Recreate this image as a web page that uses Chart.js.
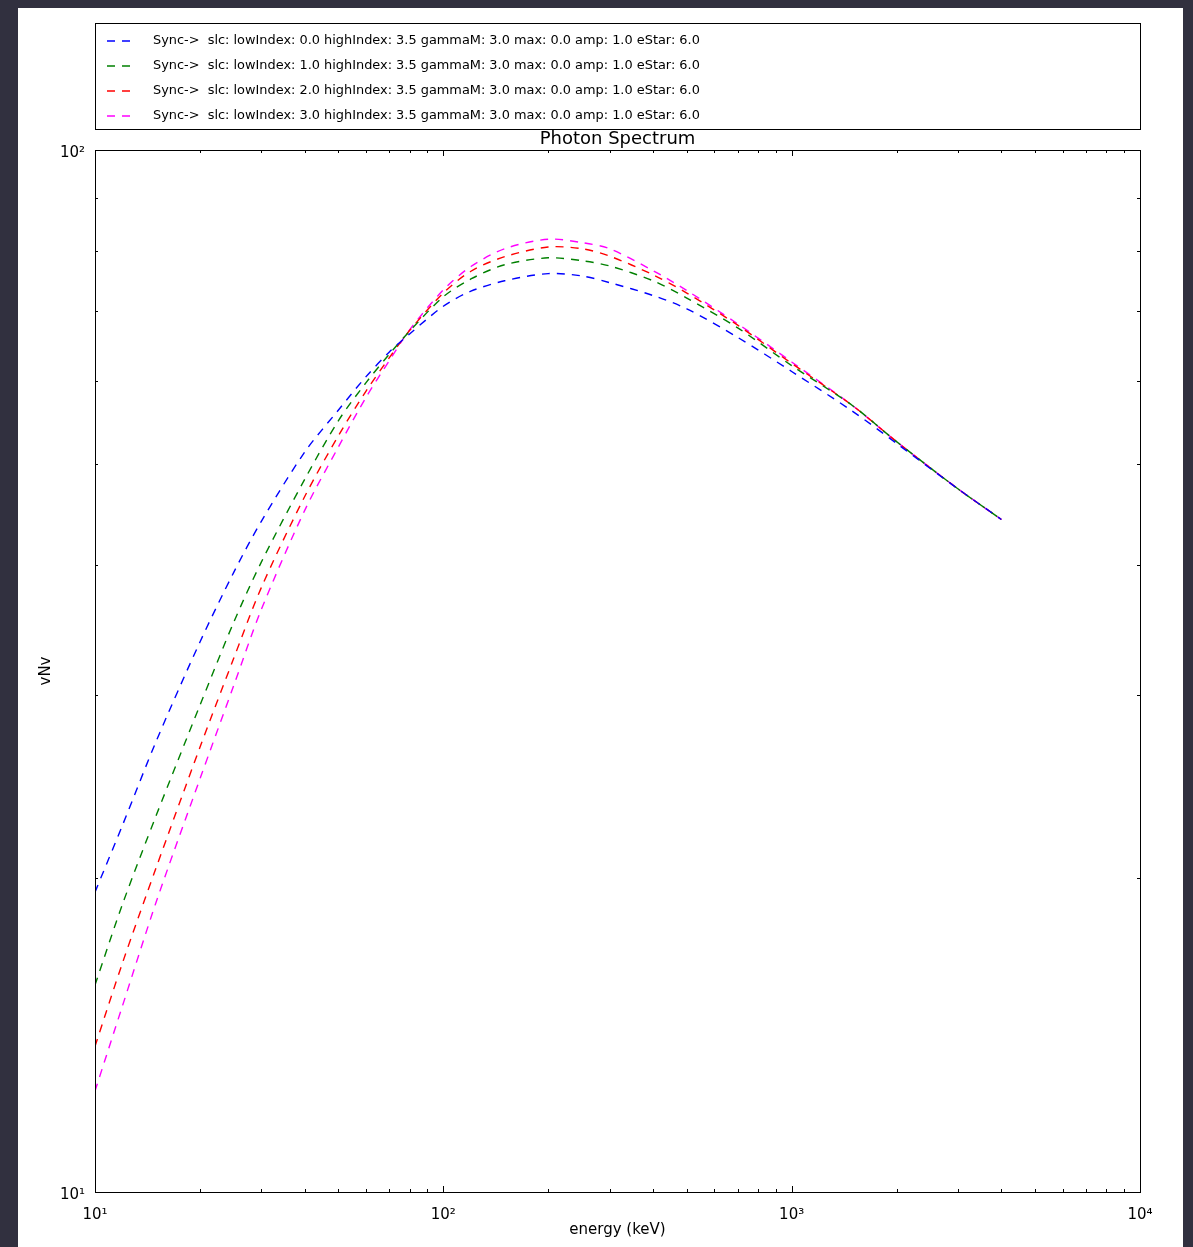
<!DOCTYPE html>
<html>
<head>
<meta charset="utf-8">
<script src="https://cdn.jsdelivr.net/npm/chart.js@4.4.0/dist/chart.umd.min.js"></script>
<style>
  html, body { margin: 0; padding: 0; background: #31303f; }
  #figure { position: absolute; left: 18px; top: 8px; width: 1165px; height: 1239px; background: #fff; }
</style>
</head>
<body>
<div id="figure"><canvas id="spectrum" width="1165" height="1239"></canvas></div>
<script>
// energies in keV
const energies = [10, 12, 15, 20, 25, 30, 40, 50, 60, 70, 80, 100, 120, 150, 200, 250, 300, 400, 500, 700, 1000, 1500, 2000, 3000, 4000];

// vNv, one array per lowIndex
const lowIndex0 = [19.4, 22.5, 27.1, 33.7, 39.3, 44.0, 51.3, 56.3, 60.6, 64.0, 66.6, 70.8, 73.2, 74.9, 76.1, 75.7, 74.6, 72.5, 70.4, 66.1, 61.3, 56.1, 52.3, 47.3, 44.2];
const lowIndex1 = [15.8, 18.9, 23.0, 29.3, 35.2, 40.2, 48.3, 55.0, 59.8, 63.7, 67.0, 72.3, 75.2, 77.6, 78.8, 78.3, 77.4, 74.9, 72.1, 67.5, 62.1, 56.8, 52.5, 47.3, 44.2];
const lowIndex2 = [13.8, 16.6, 20.5, 26.7, 32.5, 38.0, 46.5, 53.2, 58.7, 63.2, 67.1, 72.9, 76.5, 79.0, 80.7, 80.4, 79.1, 75.9, 72.9, 67.9, 62.4, 56.8, 52.5, 47.3, 44.2];
const lowIndex3 = [12.5, 15.1, 19.0, 24.9, 30.6, 36.2, 45.1, 51.9, 57.9, 62.8, 67.2, 73.4, 77.3, 80.4, 82.1, 81.5, 80.4, 76.6, 73.3, 68.1, 62.6, 56.8, 52.5, 47.3, 44.2];

const seriesLabels = [
  'Sync->  slc: lowIndex: 0.0 highIndex: 3.5 gammaM: 3.0 max: 0.0 amp: 1.0 eStar: 6.0',
  'Sync->  slc: lowIndex: 1.0 highIndex: 3.5 gammaM: 3.0 max: 0.0 amp: 1.0 eStar: 6.0',
  'Sync->  slc: lowIndex: 2.0 highIndex: 3.5 gammaM: 3.0 max: 0.0 amp: 1.0 eStar: 6.0',
  'Sync->  slc: lowIndex: 3.0 highIndex: 3.5 gammaM: 3.0 max: 0.0 amp: 1.0 eStar: 6.0'
];
const seriesColors = ['#0000ff', '#008000', '#ff0000', '#ff00ff'];

const xTickValues = [10, 100, 1000, 10000];
const xTickLabels = ['10\u00b9', '10\u00b2', '10\u00b3', '10\u2074'];
const yTickValues = [10, 100];
const yTickLabels = ['10\u00b9', '10\u00b2'];

const chartTitle = 'Photon Spectrum';
const FONT = '"DejaVu Sans", "Liberation Sans", sans-serif';

// 1..9 x 10^n between the decade ticks (unlabelled minor ticks)
function decadeTicks(majors) {
  const out = [];
  for (let i = 0; i < majors.length; i++) {
    out.push({ value: majors[i] });
    if (i < majors.length - 1) {
      for (let k = 2; k <= 9; k++) out.push({ value: majors[i] * k });
    }
  }
  return out;
}

const seriesData = [lowIndex0, lowIndex1, lowIndex2, lowIndex3];

// matplotlib style frame with inward ticks on all four sides, title over the axes
const axesFrame = {
  id: 'axesFrame',
  afterDatasetsDraw(chart) {
    const { ctx, chartArea: a, scales } = chart;
    ctx.save();
    ctx.strokeStyle = '#000';
    ctx.lineWidth = 1;
    const seg = (x1, y1, x2, y2) => {
      ctx.beginPath(); ctx.moveTo(x1, y1); ctx.lineTo(x2, y2); ctx.stroke();
    };
    scales.x.ticks.forEach(t => {
      const px = Math.round(scales.x.getPixelForValue(t.value)) + 0.5;
      const len = xTickValues.includes(t.value) ? 6 : 3;
      seg(px, a.bottom, px, a.bottom - len);
      seg(px, a.top, px, a.top + len);
    });
    scales.y.ticks.forEach(t => {
      const py = Math.round(scales.y.getPixelForValue(t.value)) + 0.5;
      const len = yTickValues.includes(t.value) ? 6 : 3;
      seg(a.left, py, a.left + len, py);
      seg(a.right, py, a.right - len, py);
    });
    ctx.strokeRect(Math.round(a.left) + 0.5, Math.round(a.top) + 0.5,
      Math.round(a.right - a.left), Math.round(a.bottom - a.top));

    ctx.fillStyle = '#000';
    ctx.font = '18px ' + FONT;
    ctx.textAlign = 'center';
    ctx.textBaseline = 'middle';
    ctx.fillText(chartTitle, (a.left + a.right) / 2, a.top - 11);
    ctx.restore();
  }
};

// boxed legend above the title, spanning the axes width
const boxLegend = {
  id: 'boxLegend',
  afterDraw(chart) {
    const { ctx, chartArea: a } = chart;
    const top = 15, rowH = 25;
    ctx.save();
    ctx.strokeStyle = '#000';
    ctx.lineWidth = 1;
    ctx.strokeRect(Math.round(a.left) + 0.5, top + 0.5, Math.round(a.right - a.left), 106);
    ctx.font = '12.9px ' + FONT;
    ctx.textBaseline = 'middle';
    ctx.fillStyle = '#000';
    chart.data.datasets.forEach((ds, i) => {
      const y = top + 18 + i * rowH;
      ctx.setLineDash(ds.borderDash);
      ctx.strokeStyle = ds.borderColor;
      ctx.lineWidth = ds.borderWidth;
      ctx.beginPath(); ctx.moveTo(a.left + 12, y); ctx.lineTo(a.left + 36, y); ctx.stroke();
      ctx.setLineDash([]);
      ctx.fillText(ds.label, a.left + 58, y);
    });
    ctx.restore();
  }
};

new Chart(document.getElementById('spectrum'), {
  type: 'line',
  data: {
    datasets: seriesData.map((vals, i) => ({
      label: seriesLabels[i],
      data: energies.map((e, j) => ({ x: e, y: vals[j] })),
      borderColor: seriesColors[i],
      borderWidth: 1.4,
      borderDash: [8, 7],
      pointRadius: 0,
      fill: false,
      tension: 0.3
    }))
  },
  options: {
    responsive: false,
    animation: false,
    devicePixelRatio: 1,
    layout: { padding: { top: 142, right: 43, bottom: 0, left: 0 } },
    plugins: {
      legend: { display: false },
      tooltip: { enabled: false },
      title: { display: false }
    },
    scales: {
      x: {
        type: 'logarithmic',
        min: 10,
        max: 10000,
        grid: { display: false, drawTicks: false },
        border: { display: false },
        afterBuildTicks: (scale) => { scale.ticks = decadeTicks(xTickValues); },
        afterFit: (scale) => { scale.height = 55; },
        ticks: {
          autoSkip: false,
          maxRotation: 0,
          padding: 14,
          color: '#000',
          font: { family: FONT, size: 15 },
          callback: (v) => {
            const k = xTickValues.indexOf(v);
            return k >= 0 ? xTickLabels[k] : '';
          }
        },
        title: {
          display: true,
          text: 'energy (keV)',
          color: '#000',
          font: { family: FONT, size: 15 },
          padding: { top: 0, bottom: 8 }
        }
      },
      y: {
        type: 'logarithmic',
        min: 10,
        max: 100,
        grid: { display: false, drawTicks: false },
        border: { display: false },
        afterBuildTicks: (scale) => { scale.ticks = decadeTicks(yTickValues); },
        afterFit: (scale) => { scale.width = 77; },
        ticks: {
          autoSkip: false,
          padding: 10,
          labelOffset: 3,
          color: '#000',
          font: { family: FONT, size: 15 },
          callback: (v) => {
            const k = yTickValues.indexOf(v);
            return k >= 0 ? yTickLabels[k] : '';
          }
        },
        title: {
          display: true,
          text: 'vNv',
          color: '#000',
          font: { family: FONT, size: 15 },
          padding: { top: 19, bottom: 0 }
        }
      }
    }
  },
  plugins: [axesFrame, boxLegend]
});
</script>
</body>
</html>
